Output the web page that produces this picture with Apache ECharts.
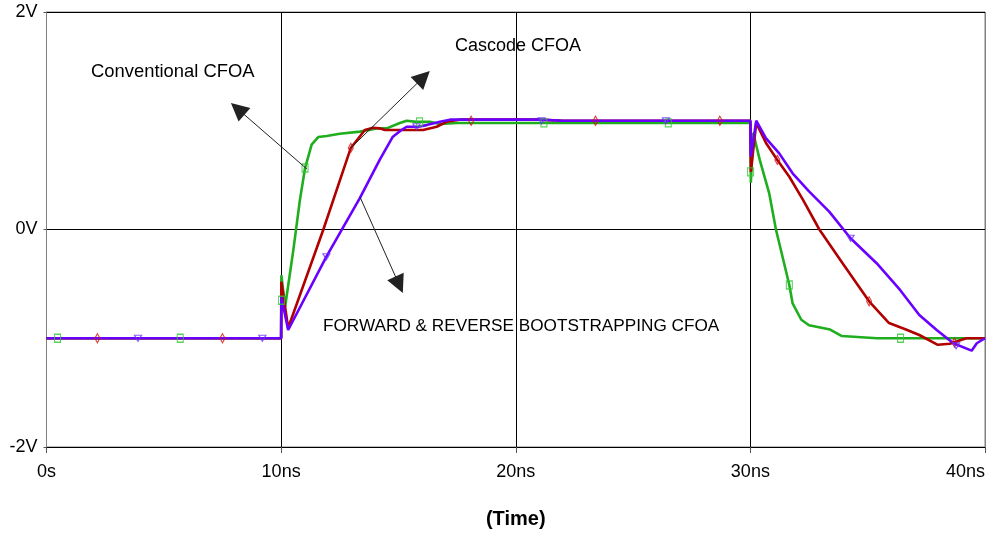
<!DOCTYPE html>
<html>
<head>
<meta charset="utf-8">
<script src="https://cdn.jsdelivr.net/npm/echarts@6/dist/echarts.min.js"></script>
<style>
  html, body { margin: 0; padding: 0; background: #fff; }
  #chart { width: 997px; height: 536px; }
</style>
</head>
<body>
<div id="chart"></div>
<script>
// Transient output voltage of three CFOA topologies (time in ns, voltage in V)
const conventional = [
  [0, -1.0], [10.0, -1.0], [10.01, -0.42], [10.17, -0.71], [10.52, -0.19], [10.8, 0.27],
  [11.02, 0.565], [11.3, 0.78], [11.58, 0.85], [11.94, 0.86], [12.5, 0.88], [13.36, 0.9],
  [14.07, 0.93], [14.5, 0.93], [15.06, 0.98], [15.35, 1.0], [15.77, 0.99], [16.34, 0.99],
  [16.77, 0.97], [17.5, 0.98], [30.0, 0.98], [30.02, 0.43], [30.12, 0.89], [30.4, 0.64],
  [30.8, 0.335], [31.09, 0.0], [31.66, -0.51], [31.8, -0.68], [32.17, -0.83], [32.5, -0.88],
  [33.4, -0.92], [33.9, -0.98], [35.4, -1.0], [40, -1.0]
];
const cascode = [
  [0, -1.0], [10.0, -1.0], [10.01, -0.48], [10.3, -0.906], [11.8, 0.0], [12.97, 0.75],
  [13.57, 0.915], [13.92, 0.935], [14.2, 0.93], [14.42, 0.915], [16.05, 0.915], [16.63, 0.945],
  [17.05, 0.99], [17.6, 1.01], [21.0, 1.01], [22.0, 1.0], [30.0, 1.0], [30.02, 0.53],
  [30.25, 0.98], [30.68, 0.79], [31.15, 0.64], [31.66, 0.485], [32.25, 0.27], [32.94, 0.0],
  [33.93, -0.31], [35.06, -0.66], [35.91, -0.86], [36.63, -0.92], [37.2, -0.97], [37.99, -1.06],
  [38.5, -1.05], [39.2, -1.0], [40, -1.0]
];
const bootstrapping = [
  [0, -1.0], [10.0, -1.0], [10.01, -0.62], [10.3, -0.924], [11.93, -0.25], [13.36, 0.29],
  [14.2, 0.64], [14.75, 0.85], [15.13, 0.915], [15.35, 0.945], [15.85, 0.945], [16.2, 0.96],
  [16.77, 0.99], [17.2, 1.01], [21.0, 1.01], [22.0, 1.0], [30.0, 1.0], [30.02, 0.67],
  [30.25, 1.0], [30.66, 0.84], [31.23, 0.7], [31.8, 0.517], [32.5, 0.35], [33.36, 0.164],
  [34.27, -0.08], [35.38, -0.31], [36.38, -0.556], [37.2, -0.786], [37.94, -0.924],
  [38.65, -1.046], [39.43, -1.114], [39.65, -1.046], [40, -1.0]
];

// Trace markers (sparse sample points)
const conventionalMarks = [
  [0.47, -1.0], [5.7, -1.0], [10.02, -0.65], [11.02, 0.565], [15.9, 0.99], [21.2, 0.98],
  [26.5, 0.98], [30.01, 0.53], [31.66, -0.51], [36.4, -1.0]
];
const cascodeMarks = [
  [2.17, -1.0], [7.5, -1.0], [12.97, 0.75], [18.1, 1.0], [23.4, 1.0], [28.7, 1.0],
  [31.15, 0.64], [35.06, -0.66], [38.7, -1.04]
];
const bootstrappingMarks = [
  [3.9, -1.0], [9.2, -1.0], [11.93, -0.25], [15.77, 0.945], [21.1, 1.0], [26.4, 1.0],
  [34.27, -0.08], [38.77, -1.07]
];

// Callout arrows: [from, head centre] in (ns, V)
const arrowConventional = [[11.10, 0.556], [8.149, 1.109]];
const arrowCascode = [[12.97, 0.75], [16.062, 1.400]];
const arrowBootstrapping = [[13.36, 0.30], [15.03, -0.508]];

const xTicks = { min: 0, max: 40, interval: 10 };
const yTicks = { min: -2, max: 2, interval: 2 };

const FONT = '"Liberation Sans", Arial, sans-serif';
const GREEN = '#1eae1e';
const RED = '#b00000';
const BLUE = '#6a00ff';

const chart = echarts.init(document.getElementById('chart'), null, { renderer: 'canvas' });

function arrowLine(pair) {
  return [{ coord: pair[0] }, { coord: pair[1] }];
}

function hollow(color) {
  return { color: 'rgba(0,0,0,0)', borderColor: color, borderWidth: 1.2 };
}

chart.setOption({
  animation: false,
  backgroundColor: '#fff',
  grid: {
    left: 46.5, right: 12, top: 12, bottom: 89,
    show: true, borderColor: '#808080', borderWidth: 1
  },
  xAxis: {
    type: 'value',
    min: xTicks.min, max: xTicks.max, interval: xTicks.interval,
    name: '(Time)',
    nameLocation: 'middle',
    nameGap: 62,
    nameTextStyle: { fontFamily: FONT, fontSize: 20, fontWeight: 'bold', color: '#000' },
    axisLine: { show: true, onZero: false, lineStyle: { color: '#000', width: 1 } },
    axisTick: { show: true, length: 6, lineStyle: { color: '#555' } },
    axisLabel: {
      fontFamily: FONT, fontSize: 18, color: '#000', margin: 16,
      alignMaxLabel: 'right',
      formatter: v => (v === 0 ? '0s' : v + 'ns')
    },
    splitLine: {
      show: true,
      lineStyle: { color: ['#808080', '#000', '#000', '#000', '#808080'], width: 1 }
    }
  },
  yAxis: {
    type: 'value',
    min: yTicks.min, max: yTicks.max, interval: yTicks.interval,
    axisLine: { show: true, lineStyle: { color: '#808080', width: 1 } },
    axisTick: { show: true, length: 3, lineStyle: { color: '#555' } },
    axisLabel: {
      fontFamily: FONT, fontSize: 18, color: '#000', margin: 9,
      formatter: v => v + 'V'
    },
    splitLine: { show: true, lineStyle: { color: '#000', width: 1 } }
  },
  series: [
    {
      name: 'Conventional CFOA', type: 'line', data: conventional,
      showSymbol: false, lineStyle: { color: GREEN, width: 2.6 }, z: 3
    },
    {
      name: 'Cascode CFOA', type: 'line', data: cascode,
      showSymbol: false, lineStyle: { color: RED, width: 2.6 }, z: 4
    },
    {
      name: 'Forward & reverse bootstrapping CFOA', type: 'line', data: bootstrapping,
      showSymbol: false, lineStyle: { color: BLUE, width: 2.6 }, z: 5,
      markLine: {
        silent: true,
        symbol: ['none', 'triangle'],
        symbolSize: 18,
        label: { show: false },
        itemStyle: { color: '#000' },
        lineStyle: { color: '#222', width: 1, type: 'solid' },
        data: [
          arrowLine(arrowConventional),
          arrowLine(arrowCascode),
          arrowLine(arrowBootstrapping)
        ],
        z: 10
      }
    },
    {
      type: 'scatter', data: conventionalMarks, symbol: 'rect', symbolSize: [6, 8],
      itemStyle: hollow('#33c433'), z: 6
    },
    {
      type: 'scatter', data: cascodeMarks, symbol: 'diamond', symbolSize: [5, 9],
      itemStyle: hollow('#d01010'), z: 6
    },
    {
      type: 'scatter', data: bootstrappingMarks, symbol: 'triangle', symbolRotate: 180,
      symbolSize: [7, 6], itemStyle: hollow('#6a33ff'), z: 6
    }
  ],
  graphic: [
    { type: 'text', left: 91, top: 63, style: { text: 'Conventional CFOA', font: '18.4px ' + FONT, fill: '#000' } },
    { type: 'text', left: 455, top: 37, style: { text: 'Cascode CFOA', font: '18px ' + FONT, fill: '#000' } },
    { type: 'text', left: 323, top: 318, style: { text: 'FORWARD & REVERSE BOOTSTRAPPING CFOA', font: '17.2px ' + FONT, fill: '#000' } }
  ]
});
</script>
</body>
</html>
